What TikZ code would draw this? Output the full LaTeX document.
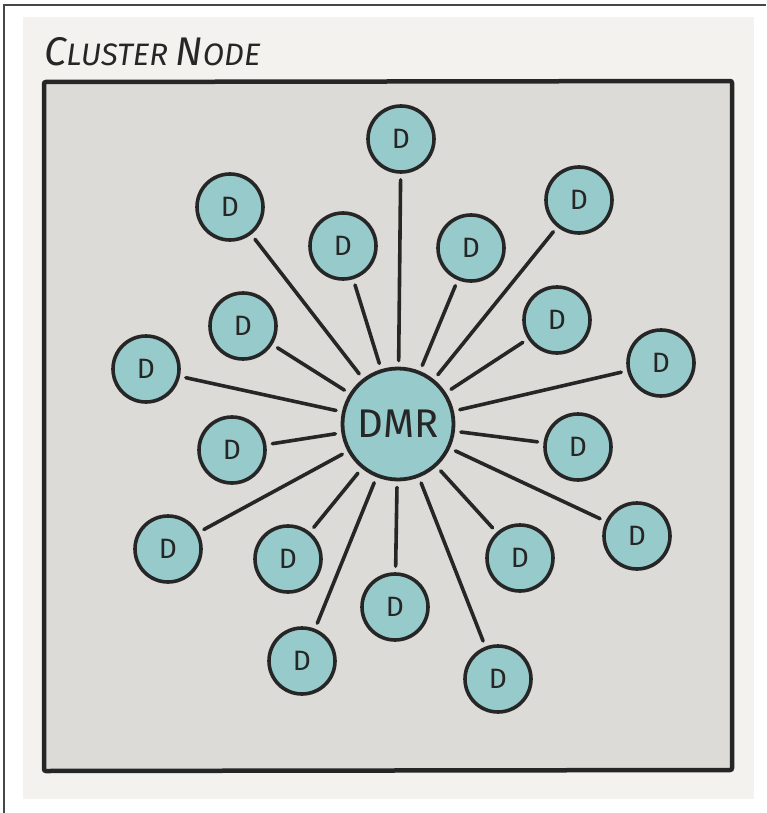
\documentclass[tikz,border=0pt]{standalone}
\usepackage{fontspec}
\setmainfont{Fira Sans}
\newfontfamily\handfont{Fira Sans}
\definecolor{paper}{HTML}{F3F2EE}
\definecolor{boxfill}{HTML}{DCDBD7}
\definecolor{teal}{HTML}{97CBCB}
\definecolor{ink}{HTML}{262626}
\begin{document}
\begin{tikzpicture}[x=1pt,y=-1pt,
  dnode/.style={circle,draw=ink,line width=3.6pt,fill=teal,minimum size=66pt,inner sep=0pt,font=\handfont\fontsize{28}{28}\selectfont,text=ink},
  hub/.style={circle,draw=ink,line width=3.8pt,fill=teal,minimum size=111pt,inner sep=0pt,font=\handfont\fontsize{40}{40}\selectfont,text=ink},
  link/.style={draw=ink,line width=3.6pt,line cap=round,shorten <=6pt,shorten >=6pt}]
\useasboundingbox (0,0) rectangle (766,813);
\fill[white] (0,0) rectangle (766,813);
\draw[ink!85,line width=1.4pt] (4,813) -- (4,5) -- (766,5);
\fill[paper] (23,17) rectangle (754,799);
\draw[ink,line width=4.5pt,fill=boxfill,rounded corners=2pt] (44,82) -- (732,81) -- (732,770) -- (44,771) -- cycle;
\node[anchor=west,text=ink,inner sep=0pt] (title) at (44,52) {\itshape\fontsize{40}{40}\selectfont C\fontsize{31}{31}\selectfont LUSTER \fontsize{40}{40}\selectfont N\fontsize{31}{31}\selectfont ODE};
\node[hub] (dmr) at (398,424) {DMR};
\node[dnode] (d1) at (401,139) {D};
\node[dnode] (d2) at (230,207) {D};
\node[dnode] (d3) at (579,200) {D};
\node[dnode] (d4) at (343,246) {D};
\node[dnode] (d5) at (471,248) {D};
\node[dnode] (d6) at (243,326) {D};
\node[dnode] (d7) at (557,320) {D};
\node[dnode] (d8) at (146,369) {D};
\node[dnode] (d9) at (661,363) {D};
\node[dnode] (d10) at (232,450) {D};
\node[dnode] (d11) at (578,447) {D};
\node[dnode] (d12) at (168,549) {D};
\node[dnode] (d13) at (637,536) {D};
\node[dnode] (d14) at (288,559) {D};
\node[dnode] (d15) at (520,558) {D};
\node[dnode] (d16) at (395,607) {D};
\node[dnode] (d17) at (302,661) {D};
\node[dnode] (d18) at (498,679) {D};
\foreach \n in {1,...,18} {\draw[link] (dmr) -- (d\n);}
\end{tikzpicture}
\end{document}
